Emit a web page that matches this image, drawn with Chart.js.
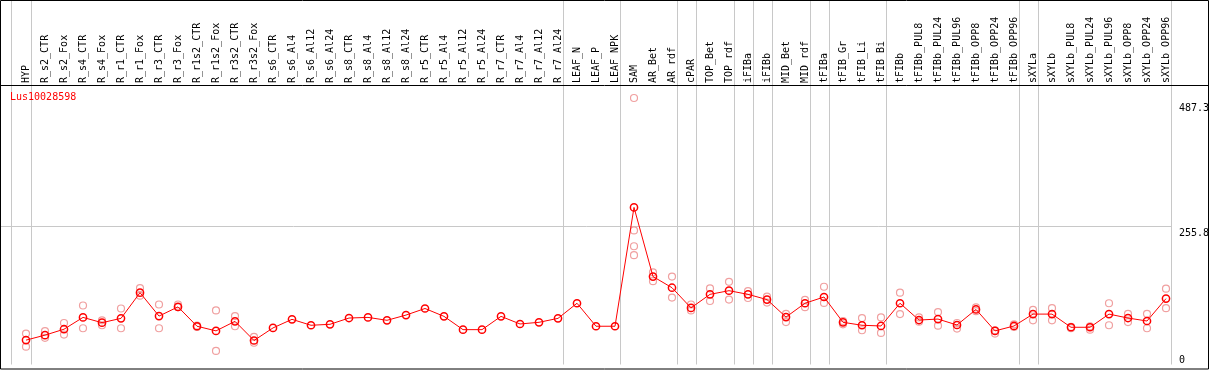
<!DOCTYPE html>
<html>
<head>
<meta charset="utf-8">
<script src="https://cdn.jsdelivr.net/npm/chart.js@4.4.1/dist/chart.umd.min.js"></script>
<style>
  html, body { margin: 0; padding: 0; background: #fff; }
  #wrap { width: 1209px; height: 370px; position: relative; }
</style>
</head>
<body>
<div id="wrap"><canvas id="grafico" width="1209" height="370"></canvas></div>
<script>
const geneName = 'Lus10028598';

const categories = [
  'HYP', 'R_s2_CTR', 'R_s2_Fox', 'R_s4_CTR', 'R_s4_Fox', 'R_r1_CTR', 'R_r1_Fox', 'R_r3_CTR', 'R_r3_Fox',
  'R_r1s2_CTR', 'R_r1s2_Fox', 'R_r3s2_CTR', 'R_r3s2_Fox', 'R_s6_CTR', 'R_s6_Al4', 'R_s6_Al12', 'R_s6_Al24',
  'R_s8_CTR', 'R_s8_Al4', 'R_s8_Al12', 'R_s8_Al24', 'R_r5_CTR', 'R_r5_Al4', 'R_r5_Al12', 'R_r5_Al24',
  'R_r7_CTR', 'R_r7_Al4', 'R_r7_Al12', 'R_r7_Al24', 'LEAF_N', 'LEAF_P', 'LEAF_NPK', 'SAM', 'AR_Bet', 'AR_rdf',
  'cPAR', 'TOP_Bet', 'TOP_rdf', 'iFIBa', 'iFIBb', 'MID_Bet', 'MID_rdf', 'tFIBa', 'tFIB_Gr', 'tFIB_Li', 'tFIB_Bi',
  'tFIBb', 'tFIBb_PUL8', 'tFIBb_PUL24', 'tFIBb_PUL96', 'tFIBb_OPP8', 'tFIBb_OPP24', 'tFIBb_OPP96',
  'sXYLa', 'sXYLb', 'sXYLb_PUL8', 'sXYLb_PUL24', 'sXYLb_PUL96', 'sXYLb_OPP8', 'sXYLb_OPP24', 'sXYLb_OPP96'
];

// media de cada muestra
const means = [
  45.2, 54.4, 65.4, 87.3, 77.5, 85.5, 133.1, 89.7, 106.8,
  70.9, 62.3, 80.0, 44.5, 67.8, 83.7, 72.7, 74.5,
  86.1, 87.3, 81.9, 91.6, 103.8, 89.2, 64.6, 64.6,
  89.2, 75.1, 78.2, 85.5, 113.5, 70.9, 70.9, 291.2, 163.0, 142.3,
  104.9, 130.0, 136.8, 130.0, 120.3, 87.9, 113.5, 125.1, 78.2, 72.7, 71.4,
  113.5, 82.4, 84.2, 73.2, 102.0, 62.3, 71.4,
  93.4, 93.4, 69.0, 69.0, 93.4, 86.1, 80.6, 122.1
];

// replicas (null = sin replica visible)
const repA = [
  57.3, 61.7, 76.9, 109.3, 81.9, 103.8, 141.6, 111.2, 111.2,
  72.0, 100.2, 89.7, 51.3, null, null, null, null,
  null, null, null, null, null, null, null, null,
  null, null, null, null, null, null, null, 493.9, 170.9, 163.0,
  111.2, 141.0, 153.3, 136.1, 125.8, 93.9, 119.6, 144.1, 80.6, 86.1, 87.3,
  133.1, 87.3, 97.1, 76.9, 105.7, 63.5, 74.5,
  101.3, 104.4, 69.6, 70.9, 113.5, 93.9, 93.9, 140.5
];
const repB = [
  33.0, 49.4, 55.5, 67.2, 72.7, 67.2, 127.6, 67.2, 106.2,
  69.6, 25.1, 70.9, 40.3, null, null, null, null,
  null, null, null, null, null, null, null, null,
  null, null, null, null, null, null, null, 248.5, 154.4, 124.0,
  100.2, 117.7, 120.3, 123.2, 114.8, 78.7, 106.2, 114.1, 74.5, 63.5, 58.6,
  93.4, 79.3, 72.0, 66.5, 98.9, 57.3, 69.6,
  81.9, 81.9, 67.2, 64.6, 72.7, 78.7, 67.2, 104.4
];
const repC = categories.map(c => (c === 'SAM' ? 219.2 : null));
const repD = categories.map(c => (c === 'SAM' ? 202.7 : null));

const yTicks = [0, 255.8, 487.3];
const gridValue = 255.8;
// indices after which a vertical separator is drawn
const groupEnds = [0, 28, 31, 34, 35, 37, 38, 39, 41, 42, 45, 52, 53, 60];

const monoFont = '"DejaVu Sans Mono", "Liberation Mono", monospace';

const decorPlugin = {
    id: 'decor',
    beforeDatasetsDraw(chart) {
        const ctx = chart.ctx;
        const x = chart.scales.x;
        const y = chart.scales.y;
        const step = x.getPixelForValue(1) - x.getPixelForValue(0);
        ctx.save();
        ctx.strokeStyle = '#c8c8c8';
        ctx.lineWidth = 1;
        ctx.beginPath();
        const xs = [x.getPixelForValue(0) - step * 0.805];
        groupEnds.forEach(i => xs.push(x.getPixelForValue(i) + step * 0.25));
        xs.forEach(px => {
            const p = Math.round(px) + 0.5;
            ctx.moveTo(p, 0);
            ctx.lineTo(p, chart.chartArea.bottom);
        });
        const gy = Math.round(y.getPixelForValue(gridValue)) + 0.5;
        ctx.moveTo(1, gy);
        ctx.lineTo(Math.round(xs[xs.length - 1]) + 0.5, gy);
        ctx.stroke();
        ctx.restore();
    },
    afterDraw(chart) {
        const ctx = chart.ctx;
        const y = chart.scales.y;
        const area = chart.chartArea;
        ctx.save();
        ctx.strokeStyle = '#000';
        ctx.lineWidth = 1;
        ctx.beginPath();
        ctx.rect(0.5, 0.5, 1208, 368.5);
        ctx.moveTo(0, Math.round(area.top) + 0.5);
        ctx.lineTo(1209, Math.round(area.top) + 0.5);
        ctx.stroke();

        ctx.font = '10px ' + monoFont;
        ctx.fillStyle = '#000';
        ctx.textAlign = 'left';
        yTicks.forEach(v => {
            const py = y.getPixelForValue(v);
            if (py + 12 > area.bottom) {
                ctx.textBaseline = 'bottom';
                ctx.fillText(String(v), 1179, area.bottom + 0.5);
            } else {
                ctx.textBaseline = 'top';
                ctx.fillText(String(v), 1179, py + 1.5);
            }
        });

        ctx.fillStyle = '#ff0000';
        ctx.textBaseline = 'middle';
        ctx.fillText(geneName, 10, 97.5);
        ctx.restore();
    }
};

const repStyle = {
    type: 'line',
    showLine: false,
    pointRadius: 3.5,
    pointBorderWidth: 1.2,
    pointBorderColor: '#f0a0a0',
    pointBackgroundColor: 'rgba(0,0,0,0)',
    pointHoverRadius: 3.5
};

new Chart(document.getElementById('grafico').getContext('2d'), {
    type: 'line',
    data: {
        labels: categories,
        datasets: [
            {
                label: 'media',
                data: means,
                borderColor: '#ff0000',
                borderWidth: 1,
                pointRadius: 3.6,
                pointBorderWidth: 1.5,
                pointBorderColor: '#ff0000',
                pointBackgroundColor: 'rgba(0,0,0,0)',
                tension: 0
            },
            Object.assign({ label: 'rep1', data: repA }, repStyle),
            Object.assign({ label: 'rep2', data: repB }, repStyle),
            Object.assign({ label: 'rep3', data: repC }, repStyle),
            Object.assign({ label: 'rep4', data: repD }, repStyle)
        ]
    },
    options: {
        responsive: false,
        animation: false,
        devicePixelRatio: 1,
        layout: { padding: { left: 16.5, right: 33.5, top: 0, bottom: 2 } },
        plugins: {
            legend: { display: false },
            tooltip: { enabled: false },
            title: { display: false }
        },
        scales: {
            x: {
                type: 'category',
                position: 'top',
                offset: true,
                grid: { display: false, drawTicks: false },
                border: { display: false },
                ticks: {
                    autoSkip: false,
                    minRotation: 90,
                    maxRotation: 90,
                    padding: 2,
                    labelOffset: 12,
                    color: '#000',
                    font: { family: monoFont, size: 10 }
                },
                afterFit: (scale) => {
                    scale.height = 85;
                    scale.paddingLeft = 0;
                    scale.paddingRight = 0;
                }
            },
            y: {
                display: false,
                min: 0,
                max: 518
            }
        }
    },
    plugins: [decorPlugin]
});
</script>
</body>
</html>
